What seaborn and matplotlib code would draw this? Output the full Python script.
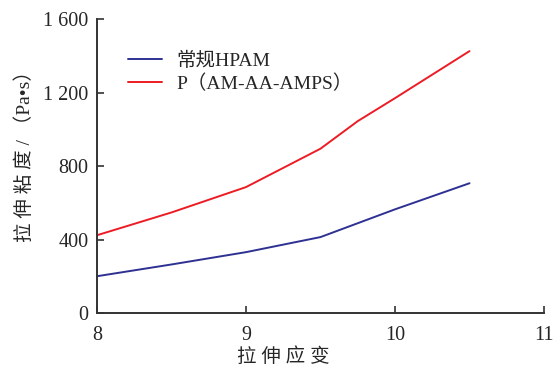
import matplotlib
matplotlib.use('Agg')
import matplotlib.pyplot as plt
import seaborn as sns
import pandas as pd

# ─── Data ─────────────────────────────────────────────────────────────────────
strain_hpam = [8.0, 8.5, 9.0, 9.5, 10.0, 10.5]
visc_hpam = [201, 265, 332, 414, 565, 707]

strain_copo = [8.0, 8.5, 9.0, 9.5, 9.75, 10.0, 10.5]
visc_copo = [424, 548, 686, 895, 1045, 1170, 1426]

series_names = ['常规HPAM', 'P（AM-AA-AMPS）']
colors = ['#2E3192', '#ED1C24']

yticks = [0, 400, 800, 1200, 1600]
ytick_labels = ['0', '400', '800', '1 200', '1 600']
xticks = [8, 9, 10, 11]

df = pd.concat([
    pd.DataFrame({'strain': strain_hpam, 'visc': visc_hpam, 'name': series_names[0]}),
    pd.DataFrame({'strain': strain_copo, 'visc': visc_copo, 'name': series_names[1]}),
])

sns.set_style('ticks')
plt.rcParams['font.family'] = ['Liberation Serif', 'Noto Sans CJK SC']
plt.rcParams['xtick.direction'] = 'in'
plt.rcParams['ytick.direction'] = 'in'

fig = plt.figure(figsize=(5.54, 3.68), dpi=100)
ax = fig.add_axes([0.175, 0.149, 0.807, 0.799])

sns.lineplot(data=df, x='strain', y='visc', hue='name', hue_order=series_names,
             palette=colors, linewidth=1.4, ax=ax, sort=False)

ax.set_xlim(8, 11)
ax.set_ylim(0, 1600)
ax.set_xticks(xticks)
ax.set_yticks(yticks)
ax.set_yticklabels(ytick_labels)
ax.tick_params(labelsize=14.5, length=5, width=1.2, color='#333333')
ax.tick_params(axis='x', pad=9)
ax.tick_params(axis='y', pad=6)
for s in ['left', 'bottom']:
    ax.spines[s].set_linewidth(1.4)
    ax.spines[s].set_color('#333333')
sns.despine(ax=ax)

# spaced characters, as in the printed figure
ax.set_xlabel('拉 伸 应 变', fontsize=14)
ax.xaxis.set_label_coords(0.416, -0.115)
ax.set_ylabel('拉 伸 粘 度 / （Pa•s）', fontsize=14)
ax.yaxis.set_label_coords(-0.14, 0.55)

leg = ax.legend(loc='upper left', bbox_to_anchor=(0.03, 0.95), frameon=False,
                fontsize=14, handlelength=1.75, handletextpad=0.75,
                labelspacing=0.25)
leg.set_title(None)

fig.savefig('out.png', dpi=100)
plt.close(fig)
